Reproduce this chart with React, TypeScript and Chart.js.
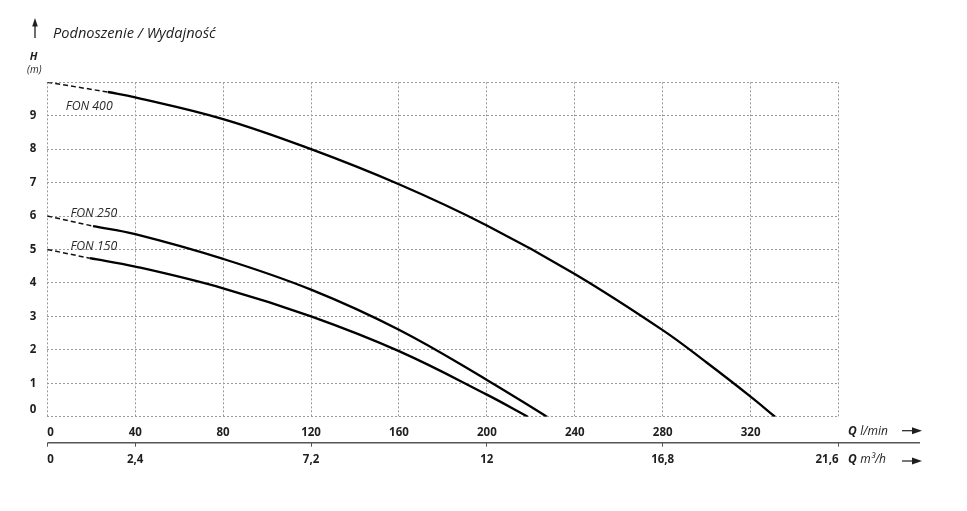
import React, { useEffect, useRef } from 'react';
import { Chart, registerables } from 'chart.js';

Chart.register(...registerables);

// Flow Q (l/min) and head H (m)
const fon400DashQ = [0, 27.6];
const fon400DashH = [10, 9.71];
const fon400Q = [27.6, 40, 80, 120, 160, 200, 240, 280, 300, 320, 331.1];
const fon400H = [9.71, 9.55, 8.9, 8.0, 6.95, 5.72, 4.27, 2.59, 1.62, 0.6, 0];

const fon250DashQ = [0, 20.8];
const fon250DashH = [6.0, 5.7];
const fon250Q = [20.8, 40, 80, 120, 160, 200, 227.3];
const fon250H = [5.7, 5.46, 4.72, 3.8, 2.6, 1.1, 0];

const fon150DashQ = [0, 19.3];
const fon150DashH = [5.0, 4.74];
const fon150Q = [19.3, 40, 80, 120, 160, 200, 218.6];
const fon150H = [4.74, 4.49, 3.84, 3.0, 1.96, 0.66, 0];

const curveNames = ['FON 400', 'FON 250', 'FON 150'];
// label anchors in data units (Q, H)
const curveLabelQ = [8.4, 10.5, 10.5];
const curveLabelH = [9.28, 6.08, 5.1];

const qTickValues = [0, 40, 80, 120, 160, 200, 240, 280, 320, 360];
const qTickLabels = ['0', '40', '80', '120', '160', '200', '240', '280', '320', ''];
const m3hTickValues = [0, 2.4, 7.2, 12, 16.8, 21.6];
const m3hTickLabels = ['0', '2,4', '7,2', '12', '16,8', '21,6'];
const hTickValues = [0, 1, 2, 3, 4, 5, 6, 7, 8, 9, 10];
const hTickLabels = ['0', '1', '2', '3', '4', '5', '6', '7', '8', '9', ''];

const chartTitle = 'Podnoszenie / Wydajność';
const hAxisTitle = 'H';
const hAxisUnit = '(m)';
const qAxisUnit1 = 'l/min';
const qAxisUnit2 = 'm³/h';
const qSymbol = 'Q';

const FAM = "'Open Sans', sans-serif";
const INK = '#1e1e1e';
const GRID = '#9a9a9a';

const pts = (xs: number[], ys: number[]) => xs.map((x, i) => ({ x, y: ys[i] }));

function drawRightArrow(ctx: CanvasRenderingContext2D, x0: number, x1: number, y: number) {
  ctx.lineWidth = 1.2;
  ctx.beginPath();
  ctx.moveTo(x0, y);
  ctx.lineTo(x1 - 6, y);
  ctx.stroke();
  ctx.beginPath();
  ctx.moveTo(x1, y);
  ctx.lineTo(x1 - 10, y - 3.5);
  ctx.lineTo(x1 - 10, y + 3.5);
  ctx.closePath();
  ctx.fill();
}

const decorations = {
  id: 'decorations',
  afterDraw(chart: any) {
    const { ctx, chartArea, scales } = chart;
    const xs = scales.x;
    const ys = scales.y;
    const x2 = scales.x2;
    ctx.save();
    ctx.fillStyle = INK;
    ctx.strokeStyle = INK;

    // title arrow
    ctx.lineWidth = 1.3;
    ctx.beginPath();
    ctx.moveTo(27, 17);
    ctx.lineTo(27, 30);
    ctx.stroke();
    ctx.beginPath();
    ctx.moveTo(27, 10);
    ctx.lineTo(24.2, 18.5);
    ctx.lineTo(29.8, 18.5);
    ctx.closePath();
    ctx.fill();

    ctx.textAlign = 'left';
    ctx.textBaseline = 'alphabetic';
    ctx.font = `italic 14.6px ${FAM}`;
    ctx.fillText(chartTitle, 45, 29.5);

    // H (m)
    ctx.textAlign = 'center';
    ctx.textBaseline = 'middle';
    ctx.font = `italic bold 11px ${FAM}`;
    ctx.fillText(hAxisTitle, 25.5, 48.7);
    ctx.font = `italic 10px ${FAM}`;
    ctx.fillText(hAxisUnit, 26.3, 62.5);

    // curve names
    ctx.textAlign = 'left';
    ctx.fillStyle = '#2a2a2a';
    ctx.font = `italic 12.3px ${FAM}`;
    curveNames.forEach((n, i) => {
      ctx.fillText(n, xs.getPixelForValue(curveLabelQ[i]), ys.getPixelForValue(curveLabelH[i]));
    });
    ctx.fillStyle = INK;

    // second axis line
    ctx.strokeStyle = '#555';
    ctx.lineWidth = 1.6;
    ctx.beginPath();
    ctx.moveTo(chartArea.left, x2.top);
    ctx.lineTo(912, x2.top);
    ctx.stroke();
    ctx.strokeStyle = INK;

    // Q axis names
    const drawQ = (unit: string, y: number) => {
      ctx.textAlign = 'left';
      ctx.textBaseline = 'middle';
      ctx.font = `italic bold 12px ${FAM}`;
      ctx.fillText(qSymbol, 840, y);
      const w = ctx.measureText(qSymbol).width;
      ctx.font = `italic 12px ${FAM}`;
      ctx.fillText(unit, 840 + w + 3.5, y);
    };
    drawQ(qAxisUnit1, 423.7);
    drawQ(qAxisUnit2, 452);
    drawRightArrow(ctx, 894, 914, 422.7);
    drawRightArrow(ctx, 894, 914, 453);

    ctx.restore();
  },
};

export default function App() {
  const ref = useRef<HTMLCanvasElement>(null);
  useEffect(() => {
    if (!ref.current) return;
    Chart.defaults.font.family = FAM;
    const solid = (d: any[]) => ({
      data: d,
      borderColor: '#000',
      borderWidth: 2.3,
      pointRadius: 0,
      tension: 0.4,
      fill: false,
    });
    const dashed = (d: any[]) => ({
      data: d,
      borderColor: '#111',
      borderWidth: 1.5,
      borderDash: [5, 3],
      pointRadius: 0,
      tension: 0,
      fill: false,
    });
    const tickFont = { size: 11.5, weight: 'bold' as const, family: FAM };
    const chart = new Chart(ref.current, {
      type: 'line',
      data: {
        datasets: [
          dashed(pts(fon400DashQ, fon400DashH)),
          solid(pts(fon400Q, fon400H)),
          dashed(pts(fon250DashQ, fon250DashH)),
          solid(pts(fon250Q, fon250H)),
          dashed(pts(fon150DashQ, fon150DashH)),
          solid(pts(fon150Q, fon150H)),
        ],
      },
      options: {
        animation: false,
        responsive: false,
        events: [],
        layout: { padding: { left: 0, right: 120.5, top: 74.3, bottom: 30.3 } },
        plugins: { legend: { display: false }, tooltip: { enabled: false }, title: { display: false } },
        scales: {
          x: {
            type: 'linear',
            position: 'bottom',
            min: 0,
            max: 360,
            weight: 0,
            afterBuildTicks: (s: any) => { s.ticks = qTickValues.map((v) => ({ value: v })); },
            afterFit: (s: any) => { s.height = 26; },
            grid: { color: GRID, lineWidth: 1, drawTicks: false },
            border: { display: false, dash: [2, 2] },
            ticks: {
              align: 'inner',
              padding: 8.7,
              maxRotation: 0,
              autoSkip: false,
              color: INK,
              font: tickFont,
              callback: (_v: any, i: number) => qTickLabels[i],
            },
          },
          x2: {
            type: 'linear',
            position: 'bottom',
            min: 0,
            max: 21.6,
            weight: 1,
            afterBuildTicks: (s: any) => { s.ticks = m3hTickValues.map((v) => ({ value: v })); },
            afterFit: (s: any) => { s.height = 30; },
            grid: { drawOnChartArea: false, drawTicks: true, tickLength: 4, color: '#555', lineWidth: 1 },
            border: { display: false },
            ticks: {
              align: 'inner',
              padding: 6,
              maxRotation: 0,
              autoSkip: false,
              color: INK,
              font: tickFont,
              callback: (_v: any, i: number) => m3hTickLabels[i],
            },
          },
          y: {
            type: 'linear',
            position: 'left',
            min: 0,
            max: 10,
            afterBuildTicks: (s: any) => { s.ticks = hTickValues.map((v) => ({ value: v })); },
            afterFit: (s: any) => { s.width = 39.3; },
            grid: { color: GRID, lineWidth: 1, drawTicks: false },
            border: { display: false, dash: [2, 2] },
            ticks: {
              padding: 11,
              autoSkip: false,
              color: INK,
              font: tickFont,
              callback: (_v: any, i: number) => (i === 0 ? [hTickLabels[0], ''] : hTickLabels[i]),
            },
          },
        },
      } as any,
      plugins: [decorations],
    });
    return () => chart.destroy();
  }, []);
  return <canvas ref={ref} width={951} height={495} style={{ display: 'block' }} />;
}
